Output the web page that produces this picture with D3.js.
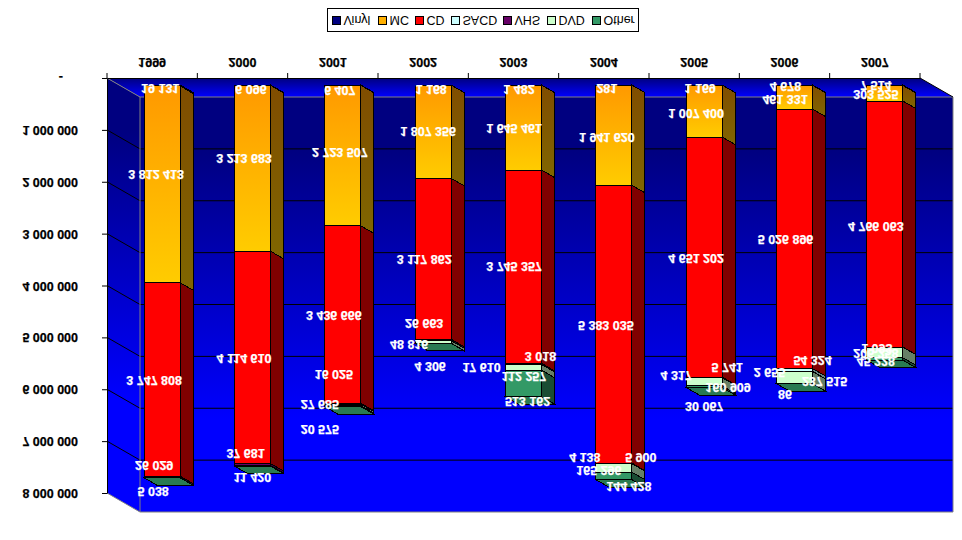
<!DOCTYPE html>
<html><head><meta charset="utf-8">
<script src="https://cdn.jsdelivr.net/npm/d3@7/dist/d3.min.js"></script>
<style>html,body{margin:0;padding:0;background:#fff}svg{display:block}
text{font-family:"Liberation Sans",Arial,sans-serif}</style></head>
<body><div id="c"></div>
<script>
const years=["1999","2000","2001","2002","2003","2004","2005","2006","2007"];
const seriesNames=["Vinyl","MC","CD","SACD","VHS","DVD","Other"];
const vinyl=[19131,6096,6407,1168,1482,281,1169,4678,7514];
const mc=[3812413,3213683,2723507,1807356,1645461,1941620,1007400,461331,303525];
const cd=[3747808,4114610,3436666,3117862,3745357,5383035,4651202,5026896,4766063];
const sacd=[null,null,null,null,3018,5900,5741,54324,1093];
const vhs=[26029,37681,16025,26663,17610,4138,4317,2655,null];
const dvd=[null,null,27685,48816,112257,165296,160909,237515,206258];
const other=[5038,11420,20575,4306,513162,144428,30067,86,45228];
const yTicks=[0,1000000,2000000,3000000,4000000,5000000,6000000,7000000,8000000];
// label nudges from the segment centre: [series][year] = [dx,dy]
const nudgeVinyl=[[-2,2.5],[-1.5,3],[-3,4],[-2,3],[-4.5,3],[-7,2],[-4,2],[-9,0],[-9,-1]];
const nudgeMc=[[-6,-11],[-8.5,-11],[-3,-4],[-5,-1],[-9.5,0],[-7,1],[-8,1],[-9.5,1],[-9,0]];
const nudgeCd=[[-8,0],[-8.5,0],[-9,0],[-9,0],[-9.5,-1],[-8,.5],[-8,0],[-9,0],[-9,1]];
const nudgeSacd=[null,null,null,null,[17,-8],[27,-7],[23,-11],[18,-10],[-8,0]];
const nudgeVhs=[[-8,-12],[-7,-12],[-9,-30],[-9,-17],[-42,3],[-29,-7],[-28,-3],[-25,0],null];
const nudgeDvd=[null,null,[-23,-1],[-24,2],[.5,8],[-15,2],[24,5],[30,3],[-9,0]];
const nudgeOther=[[-9,13],[0,11],[-23,22],[-3,22],[4,17],[15,10],[0,19],[-9.5,10],[-9,2]];

const values=[vinyl,mc,cd,sacd,vhs,dvd,other];
const nudges=[nudgeVinyl,nudgeMc,nudgeCd,nudgeSacd,nudgeVhs,nudgeDvd,nudgeOther];
const front=["#000080","url(#mcF)","#ff0000","#ccffff","#660066","#ccffcc","#339966"];
const side=["#000040","url(#mcS)","#800000","#668080","#330033","#668066","#1a4d33"];
const cap=["#000060","#bf8000","#bf0000","#99bfbf","#4d004d","#99bf99","#297a52"];
const legendFill=["#000080","#ffb000","#ff0000","#ccffff","#660066","#ccffcc","#339966"];

const W=962,H=540,fontSize=12.5;
const depthX=33,depthY=19,barDX=13,barDY=7.5,barW=36;
const leftX=107,rightX=920,topY=78,bottomY=493;
const x=d3.scaleBand().domain(years).range([leftX,rightX]);
const y=d3.scaleLinear().domain([0,8000000]).range([topY,bottomY]);
const svg=d3.select("#c").append("svg").attr("width",W).attr("height",H);
const defs=svg.append("defs");
function grad(id,attrs,stops){
  const g=defs.append("linearGradient").attr("id",id).attr("x1",0).attr("x2",0).attr("y1",0).attr("y2",1);
  Object.entries(attrs).forEach(([k,v])=>g.attr(k,v));
  stops.forEach(s=>g.append("stop").attr("offset",s[0]).attr("stop-color",s[1]));
}
grad("mcF",{},[[0,"#ff9900"],[1,"#ffcc00"]]);
grad("mcS",{},[[0,"#804d00"],[1,"#806600"]]);
grad("wall",{gradientUnits:"userSpaceOnUse",y1:150,y2:420},[[0,"#000080"],[1,"#0000ff"]]);
grad("wallL",{gradientUnits:"userSpaceOnUse",y1:130,y2:400},[[0,"#000080"],[1,"#0000ff"]]);
grad("floor",{gradientUnits:"userSpaceOnUse",y1:topY,y2:topY+depthY},[[0,"#000080"],[1,"#0000ff"]]);

const poly=(pts,fill,stroke)=>svg.append("polygon").attr("points",pts.map(p=>p.join(",")).join(" "))
  .attr("fill",fill).attr("stroke",stroke||"none");
poly([[leftX,topY],[rightX,topY],[rightX+depthX,topY+depthY],[leftX+depthX,topY+depthY]],"url(#floor)");
poly([[leftX,topY],[leftX+depthX,topY+depthY],[leftX+depthX,bottomY+depthY],[leftX,bottomY]],"url(#wallL)");
poly([[leftX+depthX,topY+depthY],[rightX+depthX,topY+depthY],[rightX+depthX,bottomY+depthY],[leftX+depthX,bottomY+depthY]],"url(#wall)");
// grey wall edges
const line=(a,b,c)=>svg.append("line").attr("x1",a[0]).attr("y1",a[1]).attr("x2",b[0]).attr("y2",b[1]).attr("stroke",c).attr("stroke-width",1);
// gridlines
yTicks.slice(1,-1).forEach(t=>{
  const p=y(t);
  line([leftX,p],[leftX+depthX,p+depthY],"#000");
  line([leftX+depthX,p+depthY],[rightX+depthX,p+depthY],"#000");
});
line([leftX,topY],[leftX+depthX,topY+depthY],"#808080");
line([leftX,bottomY],[leftX+depthX,bottomY+depthY],"#808080");
line([leftX+depthX,topY+depthY],[leftX+depthX,bottomY+depthY],"#808080");
line([leftX+depthX,topY+depthY],[rightX+depthX,topY+depthY],"#808080");
line([leftX+depthX,bottomY+depthY],[rightX+depthX,bottomY+depthY],"#808080");
line([rightX+depthX,topY+depthY],[rightX+depthX,bottomY+depthY],"#808080");
line([rightX,topY],[rightX+depthX,topY+depthY],"#000");

const gy=d=>y(d)+7-(y(d)-topY)*.005;
const labels=[];
years.forEach((yr,i)=>{
  const bx=x(yr)+x.bandwidth()/2+10-barW/2;
  const g=svg.append("g").attr("shape-rendering","crispEdges");
  let cum=0,last=-1;
  values.forEach((arr,s)=>{
    const v=arr[i]; if(v==null) return;
    const y0=gy(cum),y1=gy(cum+v);
    g.append("polygon").attr("points",[[bx+barW,y0],[bx+barW+barDX,y0+barDY],[bx+barW+barDX,y1+barDY],[bx+barW,y1]].map(p=>p.join(",")).join(" "))
      .attr("fill",side[s]).attr("stroke","#000");
    g.append("rect").attr("x",bx).attr("y",y0).attr("width",barW).attr("height",y1-y0)
      .attr("fill",front[s]).attr("stroke","#000");
    const n=nudges[s][i];
    labels.push({t:d3.format(",")(v).replace(/,/g," "),x:bx+barW/2+n[0],y:(y0+y1)/2+n[1]+1});
    cum+=v; last=s;
  });
  const yb=gy(cum);
  g.append("polygon").attr("points",[[bx,yb],[bx+barW,yb],[bx+barW+barDX,yb+barDY],[bx+barDX,yb+barDY]].map(p=>p.join(",")).join(" "))
    .attr("fill",cap[last]).attr("stroke","#000");
});

// axes
const fmt=d=>d===0?"-":d3.format(",")(d).replace(/,/g," ");
const ax=svg.append("g").attr("transform",`translate(${leftX},0)`).call(d3.axisLeft(y).tickValues(yTicks).tickFormat(fmt).tickSize(5).tickSizeOuter(0));
const at=svg.append("g").attr("transform",`translate(0,${topY})`).call(d3.axisTop(x).tickSize(0).tickPadding(0));
at.selectAll(".tick line").remove();
// x ticks sit on the band boundaries
const bounds=years.map(d=>x(d)).concat([rightX]);
at.selectAll("line.b").data(bounds).join("line").attr("class","b").attr("x1",d=>d).attr("x2",d=>d).attr("y1",-5).attr("y2",0).attr("stroke","#000");
ax.selectAll(".domain").attr("stroke","#000");at.selectAll(".domain").attr("stroke","#000");
ax.selectAll("text").attr("x",null).attr("dy",null).attr("y",null)
  .attr("transform",d=>d===0?"translate(-44,-6) scale(1,-1)":"translate(-29,-4.5) scale(1,-1)")
  .attr("text-anchor","end").attr("font-size",fontSize).attr("font-weight","bold").attr("fill","#000").attr("stroke","#000").attr("stroke-width",.25).attr("font-family",'"Liberation Sans",Arial,sans-serif');
at.selectAll("text").attr("dy",null).attr("y",null)
  .attr("transform","translate(0,-20.5) scale(1,-1)")
  .attr("text-anchor","middle").attr("font-size",fontSize).attr("font-weight","bold").attr("fill","#000").attr("stroke","#000").attr("stroke-width",.25).attr("font-family",'"Liberation Sans",Arial,sans-serif');

// data labels
svg.append("g").selectAll("text").data(labels).join("text")
  .attr("transform",d=>`translate(${d.x},${d.y-4.5}) scale(1,-1)`)
  .attr("text-anchor","middle").attr("font-size",fontSize).attr("font-weight","bold").attr("fill","#fff").attr("stroke","#fff").attr("stroke-width",.25).text(d=>d.t);

// legend
const lg=svg.append("g");
lg.append("rect").attr("x",327.5).attr("y",8.5).attr("width",311).attr("height",23).attr("fill","#fff").attr("stroke","#000");
const legendStep=d3.scaleOrdinal().domain(seriesNames).range([332,378,415,451,503,547,592]);
seriesNames.forEach((n,i)=>{
  const lx=legendStep(n);
  lg.append("rect").attr("x",lx+.5).attr("y",16.5).attr("width",8).attr("height",8).attr("fill",legendFill[i]).attr("stroke","#000");
  lg.append("text").attr("transform",`translate(${lx+11.5},15.5) scale(1,-1)`).attr("font-size",fontSize).attr("fill","#000").text(n);
});
</script></body></html>
